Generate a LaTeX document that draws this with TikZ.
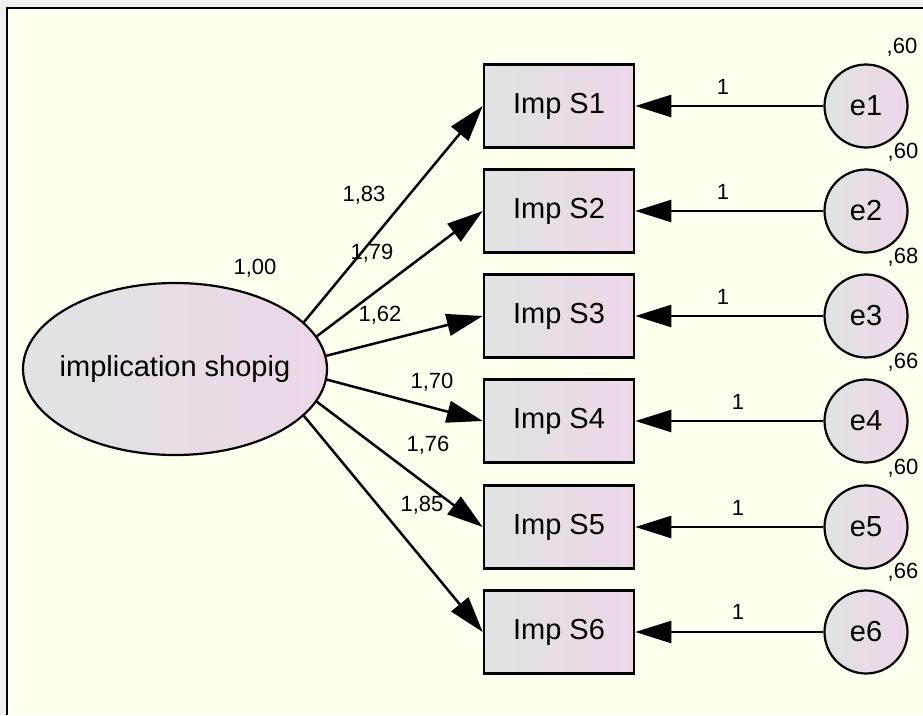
\documentclass[tikz,border=0pt]{standalone}
\usepackage{fontspec}
\setmainfont{Liberation Sans}
\usetikzlibrary{arrows.meta, shapes.geometric}

\definecolor{paper}{RGB}{255,255,240}
\definecolor{outside}{RGB}{240,240,240}
\definecolor{fillL}{RGB}{224,227,226}
\definecolor{fillR}{RGB}{236,215,232}

\begin{document}
\begin{tikzpicture}[x=1pt, y=-1pt,
  obs/.style={draw, line width=2.6pt, rectangle, minimum width=150pt, minimum height=83pt,
    inner sep=0pt, left color=fillL, right color=fillR, font=\fontsize{29}{34}\selectfont},
  err/.style={draw, line width=2.2pt, circle, minimum size=83pt, inner sep=0pt,
    left color=fillL, right color=fillR, font=\fontsize{29}{34}\selectfont},
  latent/.style={draw, line width=2.2pt, ellipse, minimum width=304pt, minimum height=172pt,
    inner sep=0pt, left color=fillL, right color=fillR},
  coef/.style={font=\fontsize{22}{26}\selectfont, inner sep=0pt},
  path/.style={line width=2.5pt, -{Triangle[length=36pt,width=22pt]}}]
\useasboundingbox (0,0) rectangle (923,715);
\fill [outside] (0,0) rectangle (923,715);
\fill [paper] (7,8) rectangle (923,715);
\draw [line width=2pt] (7,715) -- (7,8) -- (923,8);
% latent variable
\node (shop) at (175,369) [latent] {};
\node (shoptxt) at (175,369) [font=\fontsize{29}{34}\selectfont] {implication shopig};
\node (v0) at (255,268) [coef] {1,00};
% observed variables
\node (imp1) at (559,106) [obs] {Imp S1};
\node (imp2) at (559,211) [obs] {Imp S2};
\node (imp3) at (559,316) [obs] {Imp S3};
\node (imp4) at (559,421) [obs] {Imp S4};
\node (imp5) at (559,527) [obs] {Imp S5};
\node (imp6) at (559,632) [obs] {Imp S6};
% error terms
\node (e1) at (866,106) [err] {e1};
\node (e2) at (866,211) [err] {e2};
\node (e3) at (866,316) [err] {e3};
\node (e4) at (866,421) [err] {e4};
\node (e5) at (866,527) [err] {e5};
\node (e6) at (866,632) [err] {e6};
\node (v1) at (902,47) [coef] {,60};
\node (v2) at (903,152) [coef] {,60};
\node (v3) at (903,257) [coef] {,68};
\node (v4) at (903,362) [coef] {,66};
\node (v5) at (903,468) [coef] {,60};
\node (v6) at (903,572) [coef] {,66};
% loadings
\draw [path] (shop.20.6) -- (imp1.west);
\draw [path] (shop.13.4) -- (imp2.west);
\draw [path] (shop.5.3) -- (imp3.west);
\draw [path] (shop.-4.1) -- (imp4.west);
\draw [path] (shop.-13) -- (imp5.west);
\draw [path] (shop.-20.3) -- (imp6.west);
\node (w1) at (364,195) [coef] {1,83};
\node (w2) at (372,253) [coef] {1,79};
\node (w3) at (380,315) [coef] {1,62};
\node (w4) at (432,382) [coef] {1,70};
\node (w5) at (428,445) [coef] {1,76};
\node (w6) at (422,505) [coef] {1,85};
% error paths
\draw [path] (e1) -- (imp1);
\draw [path] (e2) -- (imp2);
\draw [path] (e3) -- (imp3);
\draw [path] (e4) -- (imp4);
\draw [path] (e5) -- (imp5);
\draw [path] (e6) -- (imp6);
\node (f1) at (723,87) [coef] {1};
\node (f2) at (723,192) [coef] {1};
\node (f3) at (723,297) [coef] {1};
\node (f4) at (738,402) [coef] {1};
\node (f5) at (738,508) [coef] {1};
\node (f6) at (738,612) [coef] {1};
\end{tikzpicture}
\end{document}
